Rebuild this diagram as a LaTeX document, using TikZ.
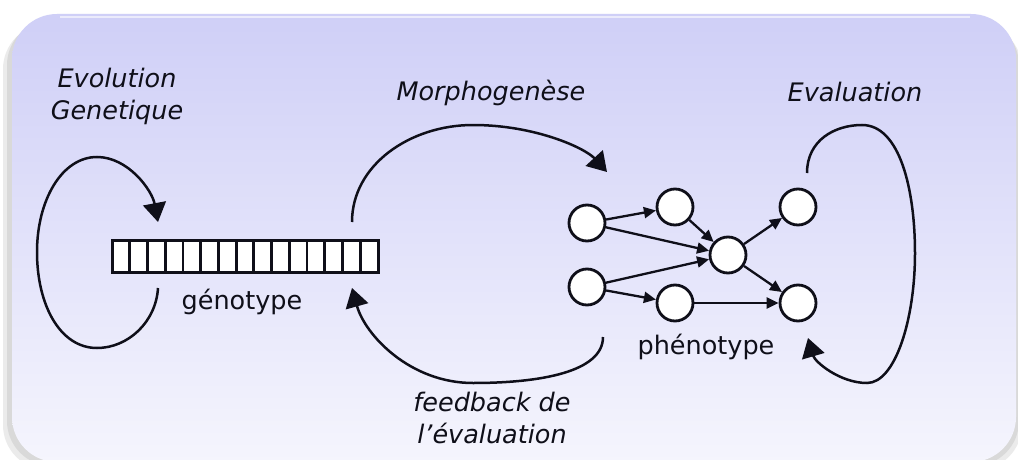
\documentclass[tikz,border=0pt]{standalone}
\usepackage{fontspec}
\setmainfont{DejaVu Sans}
\usetikzlibrary{arrows.meta}
\definecolor{bgtop}{RGB}{207,207,247}
\definecolor{bgbot}{RGB}{245,245,253}
\definecolor{ink}{RGB}{15,15,25}
\begin{document}
\begin{tikzpicture}[x=1pt,y=-1pt,
  curve/.style={line width=2.5pt, draw=ink, -{Triangle[length=19pt,width=23pt]}},
  edge/.style={line width=2.3pt, draw=ink, -{Triangle[length=12pt,width=11pt]}},
  cell/.style={circle, draw=ink, line width=2.8pt, fill=white, minimum size=36pt, inner sep=0pt},
  lbl/.style={font=\fontsize{25.5}{32}\selectfont\itshape, text=ink, align=center},
  txt/.style={font=\fontsize{25.5}{32}\selectfont, text=ink},
]
\useasboundingbox (0,0) rectangle (1018,460);
\fill[white] (0,0) rectangle (1018,460);
% background panel with shadow
\fill[gray!60, opacity=0.25, rounded corners=45pt] (3,24) rectangle (1022,470);
\fill[gray!60, opacity=0.3, rounded corners=45pt] (7,20) rectangle (1019,466);
\shade[top color=bgtop, bottom color=bgbot, rounded corners=45pt] (12,14) rectangle (1016,462);
\draw[white, line width=1.5pt, opacity=0.6] (60,17) -- (970,17);
% genotype
\node[draw=ink, line width=3pt, fill=white, minimum width=266pt, minimum height=32pt, inner sep=0pt] (geno) at (245,256) {};
\foreach \i in {1,...,14} \draw[ink, line width=2.8pt] ({112+\i*17.733},240) -- ({112+\i*17.733},272);
% labels
\node[lbl] (evo) at (117,96) {Evolution\\Genetique};
\node[lbl] (morpho) at (491,93) {Morphogenèse};
\node[lbl] (evalu) at (855,92) {Evaluation};
\node[lbl] (fb) at (492,418) {feedback de\\l’évaluation};
\node[txt] (gtxt) at (242,302) {génotype};
\node[txt] (ptxt) at (706,347) {phénotype};
% phenotype graph
\node[cell] (a) at (587,223) {};
\node[cell] (b) at (587,287) {};
\node[cell] (c) at (675,207) {};
\node[cell] (d) at (675,303) {};
\node[cell] (e) at (728,255) {};
\node[cell] (f) at (798,207) {};
\node[cell] (g) at (798,303) {};
\draw[edge] (a) -- (c);
\draw[edge] (a) -- (e);
\draw[edge] (b) -- (e);
\draw[edge] (b) -- (d);
\draw[edge] (c) -- (e);
\draw[edge, line width=2.8pt] (d) -- (g);
\draw[edge] (e) -- (f);
\draw[edge] (e) -- (g);
% big loops
\coordinate (e1s) at (158,288); \coordinate (e1t) at (158,222);
\draw[curve] (e1s) .. controls (156,322) and (128,348) .. (97,348) .. controls (60,348) and (37,305) .. (37,252) .. controls (37,200) and (62,157) .. (97,157) .. controls (128,157) and (152,190) .. (e1t);
\coordinate (m1s) at (352,222); \coordinate (m1t) at (607,172);
\draw[curve] (m1s) .. controls (352,165) and (410,125) .. (473,125) .. controls (535,125) and (585,148) .. (m1t);
\coordinate (f1s) at (603,337); \coordinate (f1t) at (352,288);
\draw[curve] (f1s) .. controls (603,372) and (540,383) .. (473,383) .. controls (410,383) and (365,335) .. (f1t);
\coordinate (v1s) at (807,173); \coordinate (v1t) at (808,338);
\draw[curve] (v1s) .. controls (807,140) and (835,125) .. (862,125) .. controls (900,125) and (915,190) .. (915,253) .. controls (915,320) and (895,383) .. (867,383) .. controls (840,383) and (815,362) .. (v1t);
\end{tikzpicture}
\end{document}
